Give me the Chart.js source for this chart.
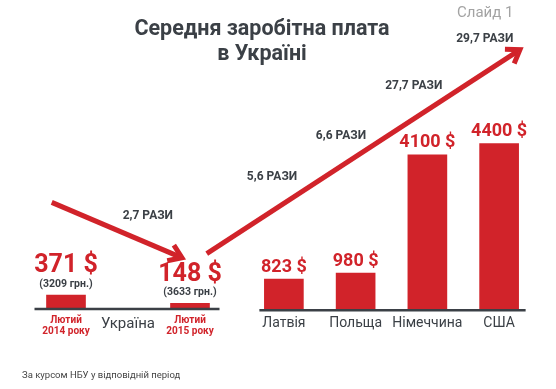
<!DOCTYPE html>
<html>
<head>
<meta charset="utf-8">
<script src="https://cdn.jsdelivr.net/npm/chart.js@4.4.1/dist/chart.umd.min.js"></script>
<style>
  body { margin: 0; background: #fff; }
  #wrap { position: relative; width: 556px; height: 389px; overflow: hidden; font-family: Roboto, sans-serif; }
  canvas { position: absolute; left: 0; top: 0; }
  #title { position: absolute; left: 112px; width: 300px; top: 15px; text-align: center; font-weight: bold; font-size: 21.5px; line-height: 25px; color: #3b4046; }
  #slide { position: absolute; left: 457px; top: 3px; font-size: 15px; color: #a3a3a3; }
  #note { position: absolute; left: 22px; top: 369px; font-size: 9.5px; color: #444; }
</style>
</head>
<body>
<div id="wrap">
  <canvas id="leftCanvas" width="556" height="389"></canvas>
  <canvas id="rightCanvas" width="556" height="389"></canvas>
  <div id="title">Середня заробітна плата<br>в Україні</div>
  <div id="slide">Слайд 1</div>
  <div id="note">За курсом НБУ у відповідній період</div>
</div>
<script>
const ukrLabels = [['Лютий', '2014 року'], 'Україна', ['Лютий', '2015 року']];
const ukrUsd = [371, null, 148];
const ukrUah = [3209, null, 3633];
const countryLabels = ['Латвія', 'Польща', 'Німеччина', 'США'];
const countryUsd = [823, 980, 4100, 4400];
const ratioLabels = ['2,7 РАЗИ', '5,6 РАЗИ', '6,6 РАЗИ', '27,7 РАЗИ', '29,7 РАЗИ'];

const RED = '#d1232a';
const DARK = '#3b4046';
const FONT = 'Roboto, sans-serif';

// arrow ends and ratio captions: [panel, category position, value]
const arrows = [
  { from: ['left', -0.23, 2830], to: ['left', 1.87, 1360] },
  { from: ['left', 2.27, 1470], to: ['right', 3.29, 6880] }
];
const ratioSpots = [
  ['left', 1.32, 2480],
  ['right', -0.165, 3520],
  ['right', 0.796, 4613],
  ['right', 1.81, 5920],
  ['right', 2.80, 7173]
];

const charts = {};

function spot(ref) {
  const c = charts[ref[0]];
  const x0 = c.scales.x.getPixelForValue(0);
  const step = c.scales.x.getPixelForValue(1) - x0;
  return [x0 + ref[1] * step, c.scales.y.getPixelForValue(ref[2])];
}

const baselinePlugin = {
  id: 'baseline',
  afterDatasetsDraw(chart, args, opts) {
    const bars = chart.getDatasetMeta(0).data.filter((b, i) => chart.data.datasets[0].data[i] != null);
    const first = bars[0], last = bars[bars.length - 1];
    const y = chart.scales.y.getPixelForValue(0);
    const ctx = chart.ctx;
    ctx.save();
    ctx.strokeStyle = DARK;
    ctx.lineWidth = 2.5;
    ctx.beginPath();
    ctx.moveTo(first.x - first.width / 2 - opts.pad[0], y);
    ctx.lineTo(last.x + last.width / 2 + opts.pad[1], y);
    ctx.stroke();
    ctx.restore();
  }
};

const valuePlugin = {
  id: 'values',
  afterDatasetsDraw(chart, args, opts) {
    const ctx = chart.ctx;
    const vals = chart.data.datasets[0].data;
    ctx.save();
    ctx.textAlign = 'center';
    ctx.textBaseline = 'middle';
    chart.getDatasetMeta(0).data.forEach((bar, i) => {
      if (vals[i] == null) return;
      ctx.fillStyle = RED;
      ctx.font = `bold ${opts.size}px ${FONT}`;
      ctx.fillText(vals[i] + ' $', bar.x, bar.y - opts.gap);
      if (opts.uah) {
        ctx.fillStyle = DARK;
        ctx.font = `bold 10.5px ${FONT}`;
        ctx.fillText('(' + opts.uah[i] + ' грн.)', bar.x, bar.y - 11);
      }
    });
    ctx.restore();
  }
};

const arrowPlugin = {
  id: 'arrows',
  beforeInit(chart) {
    charts.right = chart;
  },
  afterDraw(chart) {
    const ctx = chart.ctx;
    ctx.save();
    ctx.strokeStyle = RED;
    ctx.lineWidth = 5;
    ctx.lineJoin = 'miter';
    arrows.forEach(a => {
      const [x1, y1] = spot(a.from);
      const [x2, y2] = spot(a.to);
      const ang = Math.atan2(y2 - y1, x2 - x1);
      ctx.beginPath();
      ctx.moveTo(x1, y1);
      ctx.lineTo(x2 - 3 * Math.cos(ang), y2 - 3 * Math.sin(ang));
      ctx.stroke();
      ctx.beginPath();
      ctx.moveTo(x2 - 15 * Math.cos(ang - 0.6), y2 - 15 * Math.sin(ang - 0.6));
      ctx.lineTo(x2, y2);
      ctx.lineTo(x2 - 15 * Math.cos(ang + 0.6), y2 - 15 * Math.sin(ang + 0.6));
      ctx.stroke();
    });
    ctx.fillStyle = DARK;
    ctx.font = `bold 12px ${FONT}`;
    ctx.textAlign = 'center';
    ctx.textBaseline = 'middle';
    ratioLabels.forEach((t, i) => {
      const [x, y] = spot(ratioSpots[i]);
      ctx.fillText(t, x, y);
    });
    ctx.restore();
  }
};

function baseOptions(padding) {
  return {
    responsive: false,
    animation: false,
    events: [],
    layout: { padding: padding },
    plugins: { legend: { display: false }, tooltip: { enabled: false } },
    scales: {
      y: { display: false, min: 0, max: 6000 },
      x: {
        grid: { display: false, drawTicks: false },
        border: { display: false },
        ticks: { autoSkip: false, maxRotation: 0 }
      }
    }
  };
}

const leftOpts = baseOptions({ left: 35, right: 335, top: 83, bottom: 46 });
leftOpts.plugins.baseline = { pad: [12, 10] };
leftOpts.plugins.values = { size: 25, gap: 29, uah: ukrUah };
leftOpts.scales.x.ticks.padding = 6;
leftOpts.scales.x.ticks.color = c => c.index === 1 ? DARK : RED;
leftOpts.scales.x.ticks.font = c => c.index === 1
  ? { family: FONT, size: 15, lineHeight: 1.2 }
  : { family: FONT, size: 10, weight: 'bold', lineHeight: 1.1 };

charts.left = new Chart(document.getElementById('leftCanvas').getContext('2d'), {
  type: 'bar',
  data: {
    labels: ukrLabels,
    datasets: [{ data: ukrUsd, backgroundColor: RED, barThickness: 39, borderWidth: 0 }]
  },
  options: leftOpts,
  plugins: [baselinePlugin, valuePlugin]
});

const rightOpts = baseOptions({ left: 248, right: 21, top: 83, bottom: 52 });
rightOpts.plugins.baseline = { pad: [5, 7] };
rightOpts.plugins.values = { size: 18, gap: 12 };
rightOpts.scales.x.ticks.padding = 5;
rightOpts.scales.x.ticks.color = DARK;
rightOpts.scales.x.ticks.font = { family: FONT, size: 14, lineHeight: 1.2 };

new Chart(document.getElementById('rightCanvas').getContext('2d'), {
  type: 'bar',
  data: {
    labels: countryLabels,
    datasets: [{ data: countryUsd, backgroundColor: RED, barThickness: 39, borderWidth: 0 }]
  },
  options: rightOpts,
  plugins: [baselinePlugin, valuePlugin, arrowPlugin]
});
</script>
</body>
</html>
